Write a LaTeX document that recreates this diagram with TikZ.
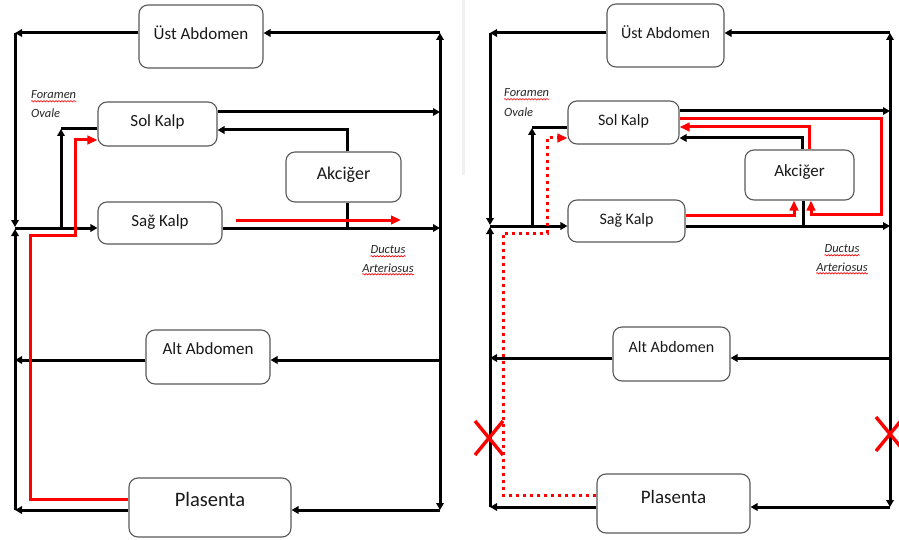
\documentclass[tikz,border=0pt]{standalone}
\usepackage{fontspec}
\setmainfont{Carlito}
\usetikzlibrary{arrows.meta,decorations.pathmorphing}
\begin{document}
\begin{tikzpicture}[x=1pt,y=-1pt,
  ln/.style={line width=3pt, black},
  tip/.style={-{Triangle[length=7pt,width=7.5pt]}},
  bitip/.style={{Triangle[length=7pt,width=7.5pt]}-{Triangle[length=7pt,width=7.5pt]}},
  rl/.style={line width=3pt, red},
  rtip/.style={-{Triangle[length=10pt,width=8.5pt]}},
  rdot/.style={line width=3pt, red, dash pattern=on 3pt off 4pt},
  box/.style={draw=black!65, line width=1.1pt, rounded corners=9pt, fill=white, inner sep=0pt, text height=0.7em, text=black!90},
  lab/.style={font=\fontsize{12.5}{14}\selectfont\itshape, inner sep=0pt, text=black!85},
  wavy/.style={red, line width=0.6pt, decorate, decoration={snake, segment length=3pt, amplitude=0.7pt}},
  xmark/.style={red, line width=3.4pt}
]
\useasboundingbox (0,0) rectangle (899,540);
\fill[white] (0,0) rectangle (899,540);
\draw[gray!12, line width=3pt] (463,0) -- (463,175);

% ================= LEFT PANEL =================
\node[box, minimum width=124pt, minimum height=63pt, text depth=1pt, font=\fontsize{17}{20}\selectfont] (ust1) at (201,36.5) {Üst Abdomen};
\node[box, minimum width=119pt, minimum height=44pt, text depth=2pt, font=\fontsize{17}{20}\selectfont] (sol1) at (157.5,124) {Sol Kalp};
\node[box, minimum width=115pt, minimum height=50pt, text depth=3pt, font=\fontsize{18}{21}\selectfont] (akc1) at (343.5,177) {Akciğer};
\node[box, minimum width=124pt, minimum height=42pt, text depth=0pt, font=\fontsize{17}{20}\selectfont] (sag1) at (160,223) {Sağ Kalp};
\node[box, minimum width=124pt, minimum height=54pt, text depth=12pt, font=\fontsize{17}{20}\selectfont] (alt1) at (208,357) {Alt Abdomen};
\node[box, minimum width=162pt, minimum height=59pt, text depth=10pt, font=\fontsize{20.5}{24}\selectfont] (pla1) at (210,507.5) {Plasenta};

\coordinate (LT1) at (15,33);   \coordinate (RT1) at (440,33);
\coordinate (LMa1) at (15,227); \coordinate (LMb1) at (15,229);
\coordinate (LB1) at (15,510);  \coordinate (RB1) at (440,510);
\coordinate (RS1) at (440,112); \coordinate (AKx1) at (347,130);
\coordinate (LM1) at (15,228);  \coordinate (RM1) at (440,228);
\coordinate (AKb1) at (347,228);
\coordinate (FO1) at (61,129);  \coordinate (FOb1) at (61,228);
\coordinate (LA1) at (15,360);  \coordinate (RA1) at (440,360);

\draw[ln,tip] (RT1) -- (RT1 -| ust1.east);
\draw[ln,tip] (ust1.west |- LT1) -- (LT1);
\draw[ln,tip] (LT1) -- (LMa1);
\draw[ln,tip] (LB1) -- (LMb1);
\draw[ln,bitip] (RB1) -- (RT1);
\draw[ln,tip] (sol1.east |- RS1) -- (RS1);
\draw[ln,tip] (AKx1 |- akc1.north) -- (AKx1) -- (AKx1 -| sol1.east);
\draw[ln,tip] (LM1) -- (LM1 -| sag1.west);
\draw[ln,tip] (sag1.east |- RM1) -- (RM1);
\draw[ln] (AKb1 |- akc1.south) -- (AKb1);
\draw[ln,tip] (FOb1) -- (FO1);
\draw[ln] (FO1) -- (FO1 -| sol1.west);
\draw[ln,tip] (RA1) -- (RA1 -| alt1.east);
\draw[ln,tip] (alt1.west |- LA1) -- (LA1);
\draw[ln,tip] (RB1) -- (RB1 -| pla1.east);
\draw[ln,tip] (pla1.west |- LB1) -- (LB1);

\coordinate (R1a) at (30,499); \coordinate (R1b) at (30,235);
\coordinate (R1c) at (75,235); \coordinate (R1d) at (75,140);
\coordinate (R1e) at (236,220); \coordinate (R1f) at (401,220);
\draw[rl,rtip] (pla1.west |- R1a) -- (R1a) -- (R1b) -- (R1c) -- (R1d) -- (R1d -| sol1.west);
\draw[rl,rtip] (R1e) -- (R1f);

\node[lab, anchor=west] (fo1) at (31,95) {Foramen};
\node[lab, anchor=west] (ov1) at (31,113) {Ovale};
\node[lab] (du1) at (388,250) {Ductus};
\node[lab] (ar1) at (388,268) {Arteriosus};
\draw[wavy] ([yshift=-2pt]fo1.south west) -- ([yshift=-2pt]fo1.south east);
\draw[wavy] ([yshift=-2pt]du1.south west) -- ([yshift=-2pt]du1.south east);
\draw[wavy] ([yshift=-2pt]ar1.base west) -- ([yshift=-2pt]ar1.base east);

% ================= RIGHT PANEL =================
\node[box, minimum width=117pt, minimum height=63pt, text depth=1pt, font=\fontsize{16}{19}\selectfont] (ust2) at (665.5,35.5) {Üst Abdomen};
\node[box, minimum width=111pt, minimum height=43pt, text depth=1pt, font=\fontsize{16}{19}\selectfont] (sol2) at (623.5,122.5) {Sol Kalp};
\node[box, minimum width=109pt, minimum height=50pt, text depth=3pt, font=\fontsize{17}{20}\selectfont] (akc2) at (799.5,175) {Akciğer};
\node[box, minimum width=117pt, minimum height=42pt, text depth=0pt, font=\fontsize{16}{19}\selectfont] (sag2) at (626.5,221) {Sağ Kalp};
\node[box, minimum width=117pt, minimum height=54pt, text depth=10pt, font=\fontsize{16}{19}\selectfont] (alt2) at (671.5,354) {Alt Abdomen};
\node[box, minimum width=153pt, minimum height=59pt, text depth=8pt, font=\fontsize{19}{22}\selectfont] (pla2) at (673.5,503.5) {Plasenta};

\coordinate (LT2) at (490,33);   \coordinate (RT2) at (890,33);
\coordinate (LMa2) at (490,225); \coordinate (LMb2) at (490,227);
\coordinate (LB2) at (490,507);  \coordinate (RB2) at (890,507);
\coordinate (RS2) at (890,111);  \coordinate (AKx2) at (802,138);
\coordinate (LM2) at (490,226);  \coordinate (RM2) at (890,226);
\coordinate (AKb2) at (803,226);
\coordinate (FO2) at (532,128);  \coordinate (FOb2) at (532,226);
\coordinate (LA2) at (490,358);  \coordinate (RA2) at (890,358);

\draw[ln,tip] (RT2) -- (RT2 -| ust2.east);
\draw[ln,tip] (ust2.west |- LT2) -- (LT2);
\draw[ln,tip] (LT2) -- (LMa2);
\draw[ln,tip] (LB2) -- (LMb2);
\draw[ln,bitip] (RB2) -- (RT2);
\draw[ln,tip] (sol2.east |- RS2) -- (RS2);
\draw[ln,tip] (AKx2 |- akc2.north) -- (AKx2) -- (AKx2 -| sol2.east);
\draw[ln,tip] (LM2) -- (LM2 -| sag2.west);
\draw[ln,tip] (sag2.east |- RM2) -- (RM2);
\draw[ln] (AKb2 |- akc2.south) -- (AKb2);
\draw[ln,tip] (FOb2) -- (FO2);
\draw[ln] (FO2) -- (FO2 -| sol2.west);
\draw[ln,tip] (RA2) -- (RA2 -| alt2.east);
\draw[ln,tip] (alt2.west |- LA2) -- (LA2);
\draw[ln,tip] (RB2) -- (RB2 -| pla2.east);
\draw[ln,tip] (pla2.west |- LB2) -- (LB2);

% red paths right
\coordinate (Ra) at (809,127);
\draw[rl,rtip] (Ra |- akc2.north) -- (Ra) -- (Ra -| sol2.east);
\coordinate (Rb1) at (881,119); \coordinate (Rb2) at (881,214); \coordinate (Rb3) at (811,214);
\draw[rl,rtip] (sol2.east |- Rb1) -- (Rb1) -- (Rb2) -- (Rb3) -- (Rb3 |- akc2.south);
\coordinate (Rc) at (794,215);
\draw[rl,rtip] (sag2.east |- Rc) -- (Rc) -- (Rc |- akc2.south);
\coordinate (Rd1) at (503,495); \coordinate (Rd2) at (503,233);
\coordinate (Rd3) at (547,233); \coordinate (Rd4) at (547,138);
\draw[rdot,rtip] (pla2.west |- Rd1) -- (Rd1) -- (Rd2) -- (Rd3) -- (Rd4) -- (Rd4 -| sol2.west);

% red crosses
\draw[xmark] (475,421) -- (503,455) (475,455) -- (503,421);
\draw[xmark] (876,417) -- (904,451) (876,451) -- (904,417);

\node[lab, anchor=west] (fo2) at (504,93) {Foramen};
\node[lab, anchor=west] (ov2) at (504,112) {Ovale};
\node[lab] (du2) at (842,249) {Ductus};
\node[lab] (ar2) at (842,267) {Arteriosus};
\draw[wavy] ([yshift=-2pt]fo2.south west) -- ([yshift=-2pt]fo2.south east);
\draw[wavy] ([yshift=-2pt]du2.south west) -- ([yshift=-2pt]du2.south east);
\draw[wavy] ([yshift=-2pt]ar2.base west) -- ([yshift=-2pt]ar2.base east);
\end{tikzpicture}
\end{document}
